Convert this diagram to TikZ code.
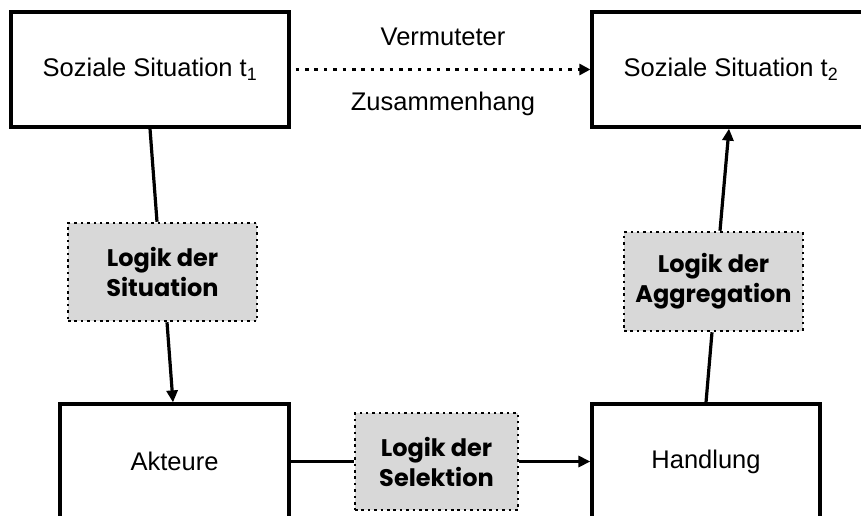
\documentclass[tikz,border=0pt]{standalone}
\usepackage{fontspec}
\setmainfont{Liberation Sans}
\newfontfamily\logikfont{Poppins}[BoldFont={* Bold}]
\usetikzlibrary{arrows.meta}
\definecolor{logikgray}{RGB}{216,216,216}
\begin{document}
\begin{tikzpicture}[x=1pt,y=-1pt,
  situation/.style={draw,line width=3.2pt,minimum width=278pt,minimum height=115pt,
    inner sep=0pt,font=\fontsize{25.5}{28}\selectfont},
  logik/.style={fill=logikgray,draw,line width=2.5pt,dash pattern=on 2.5pt off 3.9pt,
    inner sep=0pt,align=center,font=\logikfont\bfseries\fontsize{24}{30}\selectfont},
  link/.style={line width=3.2pt},
  arrowlink/.style={link,-{Triangle[length=12pt,width=11pt]}},
  hint/.style={font=\fontsize{25.5}{28}\selectfont}]
\useasboundingbox (0,0) rectangle (861,516);
\clip (0,0) rectangle (861,516);

% the four situation / action boxes
\node[situation] (s1) at (150,69.5) {Soziale Situation t\textsubscript{1}};
\node[situation] (s2) at (731,69.5) {Soziale Situation t\textsubscript{2}};
\node[situation,minimum width=229pt] (akt) at (174.5,461.5) {Akteure};
\node[situation,minimum width=228pt] (hand) at (706,461.5) {Handlung};

% the three logics
\node[logik,minimum width=189pt,minimum height=98pt] (lsit) at (162.5,272) {Logik der\\Situation};
\node[logik,minimum width=163pt,minimum height=97pt] (lsel) at (436.5,461.5) {Logik der\\Selektion};
\node[logik,minimum width=179pt,minimum height=99pt] (lagg) at (713.5,281.5) {Logik der\\Aggregation};

% assumed macro link
\draw[line width=3.6pt,dash pattern=on 3.6pt off 5.8pt,-{Triangle[length=11pt,width=11pt]}]
  ([xshift=5pt]s1.east) -- (s2.west)
  node[midway,hint,above=19pt] (v1) {Vermuteter}
  node[midway,hint,below=17pt] (v2) {Zusammenhang};

% micro path
\draw[link] (s1.south) -- ([xshift=-5.5pt]lsit.north);
\draw[arrowlink] ([xshift=4.5pt]lsit.south) -- ([xshift=-1.5pt]akt.north);
\draw[link] (akt.east) -- (lsel.west);
\draw[arrowlink] (lsel.east) -- (hand.west);
\draw[link] (hand.north) -- ([xshift=-1.5pt]lagg.south);
\draw[arrowlink] ([xshift=6.5pt]lagg.north) -- ([xshift=-2pt]s2.south);
\end{tikzpicture}
\end{document}
